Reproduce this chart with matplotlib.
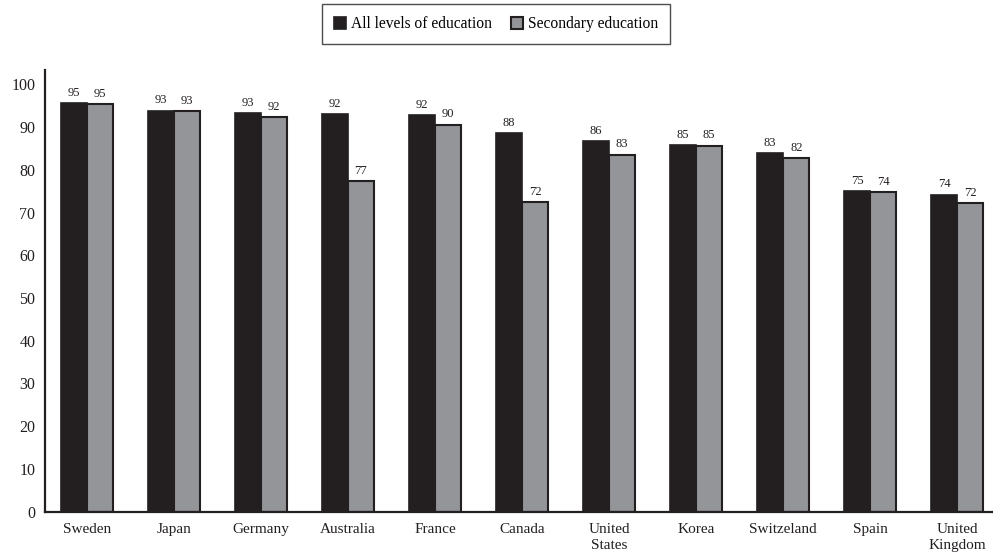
import numpy as np
import matplotlib
matplotlib.use("Agg")
import matplotlib.pyplot as plt

plt.rcParams['font.family'] = ['Liberation Serif', 'DejaVu Serif']

# data
countries = ["Sweden", "Japan", "Germany", "Australia", "France", "Canada",
             "United\nStates", "Korea", "Switzeland", "Spain", "United\nKingdom"]
all_levels = [95.6, 93.9, 93.3, 93.0, 92.8, 88.7, 86.7, 85.9, 84.0, 75.1, 74.2]
secondary = [95.5, 93.8, 92.3, 77.3, 90.6, 72.5, 83.6, 85.7, 82.7, 74.8, 72.3]
all_labels = [95, 93, 93, 92, 92, 88, 86, 85, 83, 75, 74]
sec_labels = [95, 93, 92, 77, 90, 72, 83, 85, 82, 74, 72]
yticks = [0, 10, 20, 30, 40, 50, 60, 70, 80, 90, 100]

DARK = "#231f20"
GREY = "#939598"

fig = plt.figure(figsize=(9.93, 5.54), dpi=100)
ax = fig.add_axes([0.0453, 0.0767, 0.9547, 0.797])

x = np.arange(len(countries))
w = 0.3
b1 = ax.bar(x - w / 2, all_levels, w, color=DARK, edgecolor=DARK,
            linewidth=1.2, label="All levels of education")
b2 = ax.bar(x + w / 2, secondary, w, color=GREY, edgecolor=DARK,
            linewidth=1.5, label="Secondary education")

for bars, labs in [(b1, all_labels), (b2, sec_labels)]:
    for bar, lab in zip(bars, labs):
        ax.annotate(str(lab), (bar.get_x() + bar.get_width() / 2, bar.get_height()),
                    xytext=(0, 3), textcoords="offset points",
                    ha="center", va="bottom", fontsize=9, color=DARK)

ax.set_xlim(-0.48, 10.41)
ax.set_ylim(0, 103.4)
ax.set_yticks(yticks)
ax.set_xticks(x)
ax.set_xticklabels(countries, fontsize=11, color=DARK, linespacing=1.3)
ax.tick_params(axis='y', length=0, pad=7, labelsize=11.5, labelcolor=DARK)
ax.tick_params(axis='x', length=0, pad=8.5)

for s in ["top", "right"]:
    ax.spines[s].set_visible(False)
for s in ["left", "bottom"]:
    ax.spines[s].set_linewidth(1.6)
    ax.spines[s].set_color(DARK)

leg = fig.legend(handles=[b1, b2], loc="center", bbox_to_anchor=(0.4995, 1 - 24 / 554),
                 ncol=2, fontsize=11.2, frameon=True, fancybox=False,
                 handlelength=0.8, handleheight=0.8, handletextpad=0.3,
                 columnspacing=1.2, borderpad=0.75, edgecolor=DARK)
leg.get_frame().set_linewidth(1.0)

fig.savefig("out.png", dpi=100)
